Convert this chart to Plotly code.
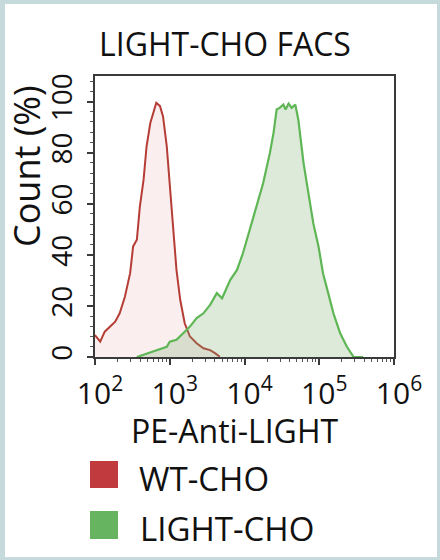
import plotly.graph_objects as go

# ---------------- data ----------------
# log10 fluorescence positions and count (%) for each histogram
WT_LOG = [2.00, 2.07, 2.13, 2.20, 2.27, 2.33, 2.40, 2.47, 2.51, 2.56, 2.60, 2.65, 2.69,
          2.74, 2.78, 2.82, 2.87, 2.91, 2.96, 3.00, 3.05, 3.09, 3.14, 3.20, 3.27, 3.36,
          3.45, 3.54, 3.61, 3.67]
WT_COUNT = [8.6, 6.0, 9.9, 11.9, 13.8, 17.1, 23.6, 32.8, 43.3, 45.9, 58.9, 69.4, 82.5,
            91.6, 95.6, 99.5, 98.2, 94.2, 82.5, 66.8, 49.8, 34.1, 22.4, 13.2, 8.0, 5.4,
            3.4, 2.7, 1.4, 0.1]

LIGHT_LOG = [2.56, 2.69, 2.83, 2.96, 3.00, 3.09, 3.18, 3.27, 3.36, 3.45, 3.54, 3.63, 3.70,
             3.81, 3.90, 3.98, 4.07, 4.16, 4.25, 4.34, 4.39, 4.43, 4.47, 4.52, 4.55, 4.59,
             4.63, 4.68, 4.72, 4.79, 4.86, 4.92, 4.99, 5.05, 5.12, 5.19, 5.28, 5.37, 5.46,
             5.59]
LIGHT_COUNT = [0.0, 1.4, 2.7, 4.0, 6.0, 6.7, 9.3, 11.9, 15.2, 17.1, 20.4, 25.0, 23.0,
               30.2, 34.1, 40.7, 49.8, 58.9, 68.1, 79.9, 88.0, 96.9, 97.5, 98.8, 96.9, 99.2,
               97.5, 98.8, 92.9, 75.9, 62.9, 52.4, 43.3, 32.8, 25.0, 17.1, 9.3, 4.0, 0.0,
               0.0]

SERIES_NAMES = ["WT-CHO", "LIGHT-CHO"]
X_TICKVALS = [1e2, 1e3, 1e4, 1e5, 1e6]
X_TICKTEXT = ["10<sup>2</sup>", "10<sup>3</sup>", "10<sup>4</sup>", "10<sup>5</sup>", "10<sup>6</sup>"]
X_MINOR = [k * 10 ** e for e in range(2, 6) for k in range(2, 10)]
Y_TICKVALS = [0, 20, 40, 60, 80, 100]
Y_MINOR = list(range(0, 112, 4))
TITLE = "LIGHT-CHO FACS"
X_TITLE = "PE-Anti-LIGHT"
Y_TITLE = "Count (%)"

# ---------------- layout geometry ----------------
W, H = 440, 560
L, R, T, B = 95, 46, 76, 203
PW, PH = W - L - R, H - T - B


def px2x(px):
    return (px - L) / PW


def py2y(py):
    return (H - B - py) / PH


FONT = "Open Sans"
RED_LINE = "#b53d36"
GREEN_LINE = "#5fb655"
RED_FILL = "rgba(214,120,120,0.13)"
GREEN_FILL = "rgba(125,172,112,0.26)"
RED_KEY = "#c13b3e"
GREEN_KEY = "#66b360"
AX = "#3a3a3a"

fig = go.Figure()
fig.add_trace(go.Scatter(
    x=[10 ** v for v in WT_LOG], y=WT_COUNT, mode="lines", name=SERIES_NAMES[0],
    line=dict(color=RED_LINE, width=2), fill="tozeroy", fillcolor=RED_FILL,
    showlegend=False, hoverinfo="skip"))
fig.add_trace(go.Scatter(
    x=[10 ** v for v in LIGHT_LOG], y=LIGHT_COUNT, mode="lines", name=SERIES_NAMES[1],
    line=dict(color=GREEN_LINE, width=2.2), fill="tozeroy", fillcolor=GREEN_FILL,
    showlegend=False, hoverinfo="skip"))

shapes = [
    dict(type="rect", xref="paper", yref="paper", layer="below",
         x0=px2x(5), x1=px2x(437), y0=py2y(557), y1=py2y(4),
         fillcolor="white", line=dict(width=0)),
    dict(type="rect", xref="paper", yref="paper",
         x0=px2x(90), x1=px2x(118), y0=py2y(488), y1=py2y(461),
         fillcolor=RED_KEY, line=dict(width=0)),
    dict(type="rect", xref="paper", yref="paper",
         x0=px2x(90), x1=px2x(118), y0=py2y(539), y1=py2y(511),
         fillcolor=GREEN_KEY, line=dict(width=0)),
]

annotations = [
    dict(text=TITLE, xref="paper", yref="paper", x=px2x(225), y=py2y(44),
         xanchor="center", yanchor="middle", showarrow=False,
         font=dict(family=FONT, size=32, color="#111")),
    dict(text=X_TITLE, xref="paper", yref="paper", x=px2x(234), y=py2y(430),
         xanchor="center", yanchor="middle", showarrow=False,
         font=dict(family=FONT, size=32, color="#111")),
    dict(text=Y_TITLE, xref="paper", yref="paper", x=px2x(26), y=py2y(166),
         xanchor="center", yanchor="middle", showarrow=False, textangle=-90,
         font=dict(family=FONT, size=36, color="#111")),
    dict(text=SERIES_NAMES[0], xref="paper", yref="paper", x=px2x(137), y=py2y(478),
         xanchor="left", yanchor="middle", showarrow=False,
         font=dict(family=FONT, size=33, color="#111")),
    dict(text=SERIES_NAMES[1], xref="paper", yref="paper", x=px2x(138), y=py2y(528),
         xanchor="left", yanchor="middle", showarrow=False,
         font=dict(family=FONT, size=33, color="#111")),
]

fig.update_layout(
    width=W, height=H,
    margin=dict(l=L, r=R, t=T, b=B, pad=0),
    paper_bgcolor="#c6dadb", plot_bgcolor="white",
    shapes=shapes, annotations=annotations, showlegend=False,
    xaxis=dict(
        type="log", range=[2, 6], tickvals=X_TICKVALS, ticktext=X_TICKTEXT,
        ticks="outside", ticklen=6, tickwidth=1.5, tickcolor=AX,
        showline=True, linecolor=AX, linewidth=2, mirror=True,
        showgrid=False, zeroline=False,
        tickfont=dict(family=FONT, size=30, color="#111"),
        ticklabelshift=5, ticklabelstandoff=3,
        minor=dict(tickvals=X_MINOR, ticks="outside", ticklen=3, tickwidth=1,
                   tickcolor="#555", showgrid=False),
    ),
    yaxis=dict(
        range=[0, 110], tickvals=Y_TICKVALS, tickangle=-90,
        ticks="outside", ticklen=6, tickwidth=1.5, tickcolor=AX,
        showline=True, linecolor=AX, linewidth=2, mirror=True,
        showgrid=False, zeroline=False,
        tickfont=dict(family=FONT, size=28, color="#111"),
        ticklabelstandoff=4,
        minor=dict(tickvals=Y_MINOR, ticks="outside", ticklen=3, tickwidth=1,
                   tickcolor="#555", showgrid=False),
    ),
)

fig.write_html("out.html", config={"displayModeBar": False},
               post_script="document.body.style.margin='0';")
